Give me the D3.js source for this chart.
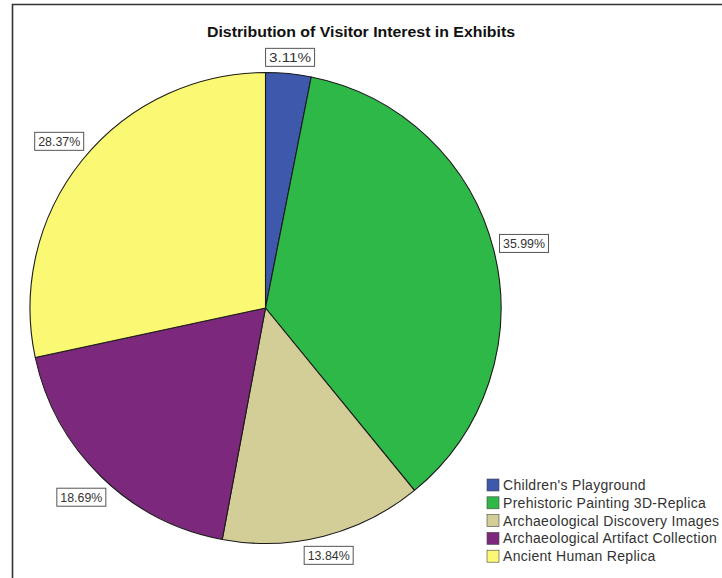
<!DOCTYPE html>
<html>
<head>
<meta charset="utf-8">
<script src="https://cdn.jsdelivr.net/npm/d3@7"></script>
<style>
  html, body { margin: 0; padding: 0; background: #fff; }
  svg { display: block; }
</style>
</head>
<body>
<svg id="chart" width="722" height="578"></svg>
<script>
// Exhibit categories, their share of visitor interest (%), and slice colours
const categories = [
  "Children's Playground",
  "Prehistoric Painting 3D-Replica",
  "Archaeological Discovery Images",
  "Archaeological Artifact Collection",
  "Ancient Human Replica"
];
const shares = [3.11, 35.99, 13.84, 18.69, 28.37];
const colors = ["#3E58AC", "#2EB848", "#D3CE97", "#7C287D", "#FBF873"];
const title = "Distribution of Visitor Interest in Exhibits";

const svg = d3.select("#chart");
const W = 722, H = 578;
const font = "'Liberation Sans', Arial, sans-serif";

// outer frame (open to the right and bottom)
svg.append("path")
  .attr("d", `M12.5,${H + 5} L12.5,4.5 L${W + 5},4.5`)
  .attr("fill", "none")
  .attr("stroke", "#333")
  .attr("stroke-width", 1.6);

// title
svg.append("text")
  .attr("x", 361)
  .attr("y", 37)
  .attr("text-anchor", "middle")
  .attr("font-family", font)
  .attr("font-weight", "bold")
  .attr("font-size", 14.5)
  .attr("fill", "#111")
  .attr("textLength", 308)
  .attr("lengthAdjust", "spacingAndGlyphs")
  .text(title);

// pie
const cx = 265.5, cy = 308, R = 235.5;
const data = categories.map((c, i) => ({ name: c, value: shares[i], color: colors[i] }));
const pie = d3.pie().value(d => d.value).sort(null);
const arcs = pie(data);
const arc = d3.arc().innerRadius(0).outerRadius(R);

const g = svg.append("g").attr("transform", `translate(${cx},${cy})`);
g.selectAll("path.slice")
  .data(arcs)
  .join("path")
  .attr("class", "slice")
  .attr("d", arc)
  .attr("fill", d => d.data.color)
  .attr("stroke", "#1a1a1a")
  .attr("stroke-width", 1.1)
  .attr("stroke-linejoin", "round");

// percentage labels in boxes, placed just outside each slice
const fmt = v => v.toFixed(2) + "%";
const boxW = 49, boxH = 18;
const labels = g.selectAll("g.lbl")
  .data(arcs)
  .join("g")
  .attr("class", "lbl")
  .attr("transform", d => {
    const a = (d.startAngle + d.endAngle) / 2;
    const s = Math.sin(a), c = Math.cos(a);
    const ext = Math.abs(s) * boxW / 2 + Math.abs(c) * boxH / 2;
    const t = R + 5 + ext;
    return `translate(${t * s},${-t * c})`;
  });

labels.append("rect")
  .attr("x", -boxW / 2)
  .attr("y", -boxH / 2)
  .attr("width", boxW)
  .attr("height", boxH)
  .attr("fill", "#fff")
  .attr("stroke", "#555")
  .attr("stroke-width", 1);

labels.append("text")
  .attr("text-anchor", "middle")
  .attr("dy", "0.36em")
  .attr("font-family", font)
  .attr("font-size", 13)
  .attr("fill", "#333")
  .attr("textLength", 42)
  .attr("lengthAdjust", "spacingAndGlyphs")
  .text(d => fmt(d.data.value));

// legend
const legend = svg.append("g").attr("transform", "translate(487,479)");
const rowH = 17.8;
const rows = legend.selectAll("g.row")
  .data(data)
  .join("g")
  .attr("class", "row")
  .attr("transform", (d, i) => `translate(0,${i * rowH})`);

rows.append("rect")
  .attr("width", 12)
  .attr("height", 12)
  .attr("fill", d => d.color)
  .attr("stroke", "#444")
  .attr("stroke-width", 0.6);

rows.append("text")
  .attr("x", 16)
  .attr("y", 6)
  .attr("dy", "0.36em")
  .attr("font-family", font)
  .attr("font-size", 14)
  .attr("letter-spacing", 0.3)
  .attr("fill", "#333")
  .text(d => d.name);
</script>
</body>
</html>
